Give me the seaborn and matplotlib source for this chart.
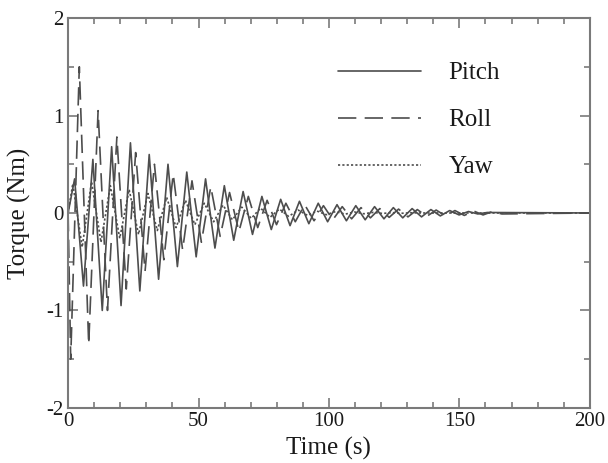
import numpy as np
import pandas as pd
import matplotlib
matplotlib.use('Agg')
import matplotlib.pyplot as plt
from matplotlib.ticker import MultipleLocator
import seaborn as sns

# peaks / troughs (time in s, torque in Nm)
roll_t = [0, 1.0, 4.3, 7.9, 11.5, 15.1, 18.7, 22.3, 25.9, 29.5, 33.1, 36.7, 40.3, 43.9,
          47.5, 51.1, 54.7, 58.3, 61.9, 65.5, 69.1, 72.7, 76.3, 79.9, 83.5, 87.1, 90.7,
          94.3, 97.9, 101.5, 105.1, 108.7, 112.3, 115.9, 119.5, 123.1, 126.7, 130.3,
          133.9, 137.5, 141.1, 144.7, 148.3, 151.9, 155.5, 159.1, 162.7, 166.3, 200]
roll_v = [0, -1.5, 1.5, -1.35, 1.05, -1.0, 0.78, -0.78, 0.62, -0.6, 0.5, -0.48, 0.4, -0.38,
          0.33, -0.3, 0.27, -0.24, 0.21, -0.19, 0.17, -0.15, 0.13, -0.12, 0.1, -0.09, 0.085,
          -0.08, 0.075, -0.07, 0.065, -0.06, 0.055, -0.05, 0.045, -0.045, 0.04, -0.04,
          0.035, -0.035, 0.03, -0.03, 0.025, -0.025, 0.02, -0.02, 0.015, -0.01, 0]

pitch_t = [0, 2.5, 5.9, 9.5, 13.1, 16.7, 20.3, 23.9, 27.5, 31.1, 34.7, 38.3, 41.9, 45.5,
           49.1, 52.7, 56.3, 59.9, 63.5, 67.1, 70.7, 74.3, 77.9, 81.5, 85.1, 88.7, 92.3,
           95.9, 99.5, 103.1, 106.7, 110.3, 113.9, 117.5, 121.1, 124.7, 128.3, 131.9,
           135.5, 139.1, 142.7, 146.3, 149.9, 153.5, 157.1, 160.7, 200]
pitch_v = [0, 0.35, -0.75, 0.55, -1.0, 0.68, -0.95, 0.72, -0.8, 0.6, -0.68, 0.5, -0.55, 0.42,
           -0.45, 0.35, -0.36, 0.28, -0.28, 0.22, -0.22, 0.17, -0.17, 0.14, -0.13, 0.12, -0.11,
           0.1, -0.09, 0.085, -0.08, 0.075, -0.07, 0.065, -0.06, 0.055, -0.05, 0.045,
           -0.04, 0.035, -0.03, 0.025, -0.02, 0.015, -0.01, 0.005, 0]

yaw_t = [0, 1.8, 5.4, 9.0, 12.6, 16.2, 19.8, 23.4, 27.0, 30.6, 34.2, 37.8, 41.4, 45.0,
         48.6, 52.2, 55.8, 59.4, 63.0, 66.6, 70.2, 73.8, 77.4, 81.0, 84.6, 88.2, 91.8,
         95.4, 99.0, 102.6, 106.2, 109.8, 113.4, 117.0, 120.6, 124.2, 127.8, 131.4, 135.0, 200]
yaw_v = [0, 0.3, -0.35, 0.32, -0.3, 0.28, -0.26, 0.24, -0.22, 0.2, -0.18, 0.16, -0.15, 0.13,
         -0.12, 0.1, -0.09, 0.08, -0.07, 0.06, -0.055, 0.05, -0.045, 0.04, -0.035, 0.03, -0.025,
         0.02, -0.018, 0.015, -0.012, 0.01, -0.008, 0.006, -0.005, 0.004, -0.003, 0.002, 0, 0]

sns.set_style('white')
plt.rcParams['font.family'] = ['Liberation Serif', 'DejaVu Serif']
plt.rcParams['axes.unicode_minus'] = False

line_col = '#4d4d4d'
frame_col = '#7a7a7a'
text_col = '#1a1a1a'

fig = plt.figure(figsize=(6.08, 4.63), dpi=100)
ax = fig.add_axes([0.112, 0.119, 0.858, 0.842])

sns.lineplot(x=pitch_t, y=pitch_v, ax=ax, color=line_col, lw=1.2, label='Pitch')
sns.lineplot(x=roll_t, y=roll_v, ax=ax, color=line_col, lw=1.2, label='Roll',
             linestyle=(0, (11, 5)))
sns.lineplot(x=yaw_t, y=yaw_v, ax=ax, color=line_col, lw=1.2, label='Yaw',
             linestyle=(0, (1.3, 1.3)))

ax.set_xlim(0, 200)
ax.set_ylim(-2, 2)
ax.xaxis.set_major_locator(MultipleLocator(50))
ax.xaxis.set_minor_locator(MultipleLocator(10))
ax.yaxis.set_major_locator(MultipleLocator(1))
ax.yaxis.set_minor_locator(MultipleLocator(0.5))
ax.tick_params(which='both', direction='in', top=True, right=True, bottom=True, left=True,
               color=frame_col, width=1.2, labelsize=15, labelcolor=text_col, pad=3)
ax.tick_params(which='major', length=7)
ax.tick_params(which='minor', length=4)
for s in ax.spines.values():
    s.set_color(frame_col)
    s.set_linewidth(1.5)

ax.set_xlabel('Time (s)', fontsize=18, color=text_col, labelpad=4)
ax.set_ylabel('Torque (Nm)', fontsize=18, color=text_col, labelpad=11)

leg = ax.legend(loc='upper left', bbox_to_anchor=(0.475, 0.945), frameon=False, fontsize=18,
                handlelength=3.3, handletextpad=1.1, labelspacing=0.98)
for t in leg.get_texts():
    t.set_color(text_col)

fig.savefig('out.png', dpi=100)
